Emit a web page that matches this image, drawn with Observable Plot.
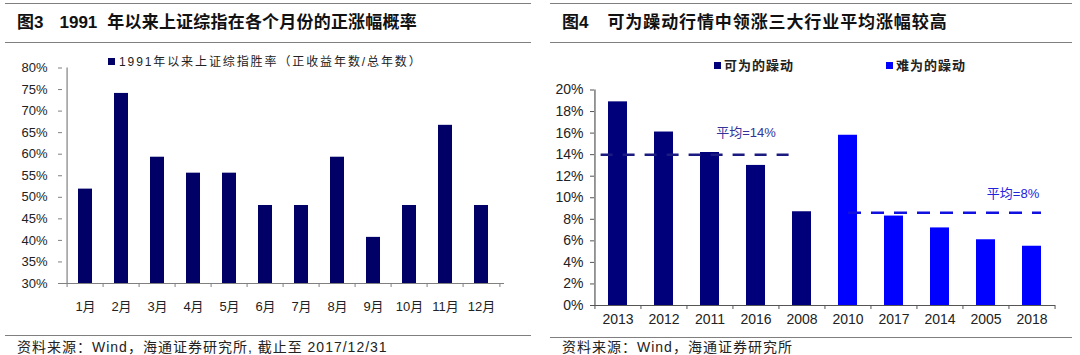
<!DOCTYPE html>
<html><head><meta charset="utf-8">
<script src="https://cdn.jsdelivr.net/npm/d3@7"></script>
<script src="https://cdn.jsdelivr.net/npm/@observablehq/plot@0.6"></script>
<style>
body{margin:0;background:#fff;}
#root{position:relative;width:1080px;height:355px;overflow:hidden;font-family:"Liberation Sans","Noto Sans CJK SC",sans-serif;color:#111;}
.hline{position:absolute;height:0;border-top:1.5px solid #7f7f7f;}
.title{position:absolute;font-weight:bold;font-size:17px;white-space:nowrap;line-height:20px;color:#111;}
.foot{position:absolute;font-size:14px;letter-spacing:1px;white-space:nowrap;line-height:16px;color:#222;}
.leg{position:absolute;white-space:nowrap;line-height:14px;}
.sq{position:absolute;width:7px;height:7px;}
.plot{position:absolute;overflow:visible;}
</style></head>
<body><div id="root"></div>
<script>
// ---- data: left chart (图3) ----
const months = ["1月","2月","3月","4月","5月","6月","7月","8月","9月","10月","11月","12月"];
const winRate = [51.9,74.1,59.3,55.6,55.6,48.1,48.1,59.3,40.7,48.1,66.7,48.1];
const yTicksLeft = [30,35,40,45,50,55,60,65,70,75,80];
const leftSeriesName = "1991年以来上证综指胜率（正收益年数/总年数）";

// ---- data: right chart (图4) ----
const years = ["2013","2012","2011","2016","2008","2010","2017","2014","2005","2018"];
const gains = [18.9,16.1,14.2,13.0,8.7,15.8,8.3,7.2,6.1,5.5];
const groups = ["可为的躁动","可为的躁动","可为的躁动","可为的躁动","可为的躁动","难为的躁动","难为的躁动","难为的躁动","难为的躁动","难为的躁动"];
const groupNames = ["可为的躁动","难为的躁动"];
const avgValues = [14, 8.6];
const avgLabels = ["平均=14%","平均=8%"];
const avgFrom = ["2013","2010"];
const avgTo = ["2008","2018"];
const yTicksRight = [0,2,4,6,8,10,12,14,16,18,20];

const titles = ["图3","1991 年以来上证综指在各个月份的正涨幅概率","图4","可为躁动行情中领涨三大行业平均涨幅较高"];
const sources = ["资料来源：Wind，海通证券研究所, 截止至 2017/12/31","资料来源：Wind，海通证券研究所"];

// ---- layout ----
const root = document.getElementById("root");
function el(tag, cls, css, html){const e=document.createElement(tag); if(cls) e.className=cls; Object.assign(e.style, css||{}); if(html!=null) e.innerHTML=html; root.appendChild(e); return e;}

// frame lines
el("div","hline",{left:"5px",width:"526px",top:"3px"});
el("div","hline",{left:"5px",width:"526px",top:"42px"});
el("div","hline",{left:"5px",width:"526px",top:"335px"});
el("div","hline",{left:"550px",width:"522px",top:"3px"});
el("div","hline",{left:"550px",width:"522px",top:"42px"});
el("div","hline",{left:"550px",width:"522px",top:"337px"});

// titles
el("div","title",{left:"17px",top:"13px"}, `${titles[0]}<span style="margin-left:16px">${titles[1].split(" ")[0]}</span><span style="margin-left:10px;letter-spacing:0.2px">${titles[1].split(" ")[1]}</span>`);
el("div","title",{left:"562px",top:"13px"}, `${titles[2]}<span style="margin-left:19px;letter-spacing:0.9px">${titles[3]}</span>`);

// sources
el("div","foot",{left:"17px",top:"339px"}, sources[0]);
el("div","foot",{left:"562px",top:"339px"}, sources[1]);

const navyL = "#000066";
const colors = ["#00007A","#0000FF"];

// legends
el("div","sq",{left:"108px",top:"58px",background:navyL});
el("div","leg",{left:"119px",top:"55px",fontSize:"12px",letterSpacing:"1.9px",color:"#222"}, leftSeriesName);
el("div","sq",{left:"714px",top:"62px",background:colors[0]});
el("div","leg",{left:"724px",top:"59px",fontSize:"13px",letterSpacing:"1px",fontWeight:"bold",color:"#222"}, groupNames[0]);
el("div","sq",{left:"886px",top:"62px",background:colors[1]});
el("div","leg",{left:"896px",top:"59px",fontSize:"13px",letterSpacing:"1px",fontWeight:"bold",color:"#222"}, groupNames[1]);

// ---- left plot ----
const leftData = months.map((m,i)=>({month:m, value:winRate[i]}));
const L = {width:540,height:290,marginLeft:62,marginRight:36,marginTop:27.5,marginBottom:47};
const bwL = (L.width-L.marginLeft-L.marginRight)/months.length;
const axisGrayL = "#808080";
const leftPlot = Plot.plot({
  ...L,
  style:{fontFamily:'"Liberation Sans","Noto Sans CJK SC",sans-serif',fontSize:"13px",color:"#222",background:"transparent",overflow:"visible"},
  x:{domain:months, paddingInner:0.62, paddingOuter:0.31, axis:null},
  y:{domain:[30,80], axis:null},
  marks:[
    Plot.barY(leftData,{x:"month", y1:30, y2:"value", fill:navyL}),
    Plot.ruleY([30],{stroke:axisGrayL, strokeWidth:1.2}),
    Plot.ruleX([months[0]],{x:d=>d, y1:30, y2:80, dx:-bwL/2, stroke:axisGrayL, strokeWidth:1.2}),
    Plot.ruleX(months,{x:d=>d, y1:30, y2:30, dx:-bwL/2, insetBottom:-4, stroke:axisGrayL}),
    Plot.ruleX([months[months.length-1]],{x:d=>d, y1:30, y2:30, dx:bwL/2, insetBottom:-4, stroke:axisGrayL}),
    Plot.axisY({ticks:yTicksLeft, tickFormat:d=>d+"%", tickSize:4, tickPadding:11, stroke:axisGrayL, fontSize:13, label:null}),
    Plot.axisX({tickSize:0, tickPadding:18, fontSize:13, label:null})
  ]
});
leftPlot.classList.add("plot");
Object.assign(leftPlot.style,{left:"0px",top:"40px"});
root.appendChild(leftPlot);

// ---- right plot ----
const rightData = years.map((y,i)=>({year:y, value:gains[i], group:groups[i]}));
const avgData = avgValues.map((v,i)=>({value:v, label:avgLabels[i], from:avgFrom[i], to:avgTo[i]}));
const R = {width:540,height:290,marginLeft:54,marginRight:25,marginTop:49.5,marginBottom:25};
const bwR = (R.width-R.marginLeft-R.marginRight)/years.length;
const axisR = "#555";
const rightPlot = Plot.plot({
  ...R,
  style:{fontFamily:'"Liberation Sans","Noto Sans CJK SC",sans-serif',fontSize:"14px",color:"#222",background:"transparent",overflow:"visible"},
  x:{domain:years, paddingInner:0.58, paddingOuter:0.29, axis:null},
  y:{domain:[0,20], axis:null},
  color:{domain:groupNames, range:colors},
  marks:[
    Plot.barY(rightData,{x:"year", y:"value", fill:"group"}),
    Plot.ruleY([0],{stroke:axisR, strokeWidth:1.2}),
    Plot.ruleX([years[0]],{x:d=>d, y1:0, y2:20, dx:-bwR/2, stroke:axisR, strokeWidth:1.2}),
    Plot.ruleX(years,{x:d=>d, y1:0, y2:0, dx:-bwR/2, insetBottom:-4, stroke:axisR}),
    Plot.ruleX([years[years.length-1]],{x:d=>d, y1:0, y2:0, dx:bwR/2, insetBottom:-4, stroke:axisR}),
    Plot.ruleY([avgData[0]],{y:"value", x1:"from", x2:"to", stroke:"#1a1a80", strokeWidth:2.5, strokeDasharray:"12,10", insetLeft:-7.4, insetRight:15}),
    Plot.ruleY([avgData[1]],{y:"value", x1:"from", x2:"to", stroke:"#1010e0", strokeWidth:2.5, strokeDasharray:"13,10", insetLeft:10, insetRight:0}),
    Plot.text([avgData[0]],{x:"to", y:"value", text:"label", dx:-56, dy:-21.5, fill:"#333399", fontSize:13}),
    Plot.text([avgData[1]],{x:"to", y:"value", text:"label", dx:-19, dy:-19.5, fill:"#2222dd", fontSize:13}),
    Plot.axisY({ticks:yTicksRight, tickFormat:d=>d+"%", tickSize:4, tickPadding:7, stroke:axisR, fontSize:14, label:null}),
    Plot.axisX({tickSize:0, tickPadding:9, fontSize:14, label:null})
  ]
});
rightPlot.classList.add("plot");
Object.assign(rightPlot.style,{left:"540px",top:"40px"});
root.appendChild(rightPlot);
</script>
</body></html>
